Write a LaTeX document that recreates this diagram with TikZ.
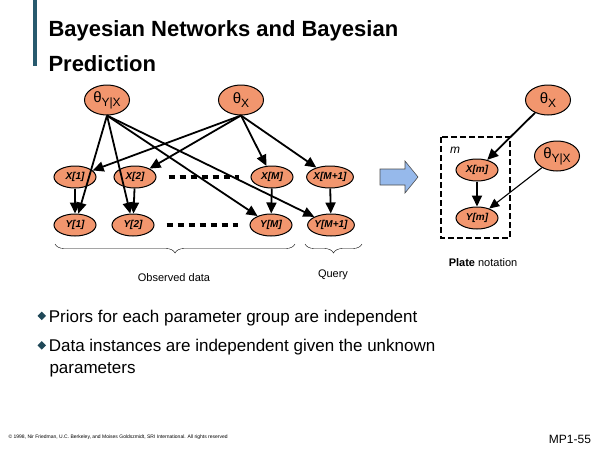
\documentclass[tikz,border=0pt]{standalone}
\usepackage{fontspec}
\setmainfont{Liberation Sans}
\usetikzlibrary{shapes.geometric,shapes.arrows,arrows.meta,decorations.pathreplacing,patterns}
\definecolor{nodeor}{RGB}{242,150,110}
\definecolor{bar}{RGB}{40,90,110}
\definecolor{arrblue}{RGB}{150,185,235}
\begin{document}
\begin{tikzpicture}[x=1pt,y=-1pt,
  v/.style={ellipse,draw,fill=nodeor,line width=1pt,minimum width=42pt,minimum height=22pt,inner sep=0pt,font=\bfseries\itshape\fontsize{10}{10}\selectfont},
  p/.style={ellipse,draw,fill=nodeor,line width=1pt,minimum width=45pt,minimum height=30pt,inner sep=0pt,font=\fontsize{15}{15}\selectfont},
  e/.style={-{Triangle[length=11pt,width=10pt]},line width=1.8pt},
  brace/.style={decorate,decoration={brace,mirror,amplitude=9pt},line width=0.4pt}]
\useasboundingbox (0,0) rectangle (600,450);
\fill[bar] (33,0) rectangle (37,66);
\node[anchor=west,font=\bfseries\fontsize{22}{24}\selectfont] (t1) at (45,31) {Bayesian Networks and Bayesian};
\node[anchor=west,font=\bfseries\fontsize{22}{24}\selectfont] (t2) at (45,64) {Prediction};
% left network
\node[p] (tyx) at (107,100) {θ\raisebox{-0.5ex}{\fontsize{12}{12}\selectfont Y|X}};
\node[p] (tx) at (241,100) {θ\raisebox{-0.5ex}{\fontsize{12}{12}\selectfont X}};
\node[v] (x1) at (75,177) {X[1]};
\node[v] (x2) at (135,177) {X[2]};
\node[v] (xm) at (272,177) {X[M]};
\node[v] (xm1) at (330,177) {X[M+1]};
\node[v] (y1) at (75,225) {Y[1]};
\node[v] (y2) at (133,225) {Y[2]};
\node[v] (ym) at (271,225) {Y[M]};
\node[v] (ym1) at (331,225) {Y[M+1]};
\foreach \a/\b in {x1/y1,x2/y2,xm/ym,xm1/ym1} \draw[e] (\a) -- (\b);
\foreach \b in {x1,x2,xm,xm1} \draw[e] (tx.south) -- (\b);
\foreach \b in {y1,y2,ym,ym1} \draw[e] (tyx.south) -- (\b);
\draw[line width=4pt,dash pattern=on 6pt off 5pt] ([xshift=12pt]x2.east) coordinate (d1) -- ([xshift=-12pt]xm.west) coordinate (d2);
\draw[line width=4pt,dash pattern=on 6pt off 5pt] ([xshift=12pt]y2.east) coordinate (d3) -- ([xshift=-12pt]ym.west) coordinate (d4);
\coordinate (b1) at (55,244); \coordinate (b2) at (295,244);
\coordinate (b3) at (305,244); \coordinate (b4) at (362,244);
\draw[brace] (b1) -- (b2);
\draw[brace] (b3) -- (b4);
\node[font=\fontsize{11}{12}\selectfont] (od) at (174,278) {Observed data};
\node[font=\fontsize{11}{12}\selectfont] (q) at (333,275) {Query};
% block arrow
\draw[gray!60!black,fill=arrblue,line width=0.6pt] (380,169) -- (405,169) -- (405,161) -- (418,177) -- (405,193) -- (405,185) -- (380,185) -- cycle;
% plate
\draw[line width=1.3pt,dash pattern=on 6pt off 3pt] (441,137) rectangle (510,238);
\node[font=\itshape\fontsize{12}{12}\selectfont] (m) at (455,150) {m};
\node[v] (xp) at (477,170) {X[m]};
\node[v] (yp) at (477,218) {Y[m]};
\node[p] (ptx) at (548,100) {θ\raisebox{-0.5ex}{\fontsize{12}{12}\selectfont X}};
\node[p] (ptyx) at (557,156) {θ\raisebox{-0.5ex}{\fontsize{12}{12}\selectfont Y|X}};
\draw[e] (xp) -- (yp);
\draw[e] (ptx) -- (xp);
\draw[-{Triangle[length=10pt,width=9pt]},line width=1.1pt] (ptyx) -- (yp);
\node[font=\fontsize{11}{12}\selectfont] (pn) at (483,263) {\textbf{Plate} notation};
% bullets
\node[anchor=west,font=\fontsize{17}{20}\selectfont] (l1) at (34,318) {\raisebox{0.25ex}{\tikz\fill[bar!80!black,rotate=45] (0,0) rectangle (6pt,6pt);}\,Priors for each parameter group are independent};
\node[anchor=north west,align=left,font=\fontsize{17}{22}\selectfont] (l2) at (34,336) {\raisebox{0.25ex}{\tikz\fill[bar!80!black,rotate=45] (0,0) rectangle (6pt,6pt);}\,Data instances are independent given the unknown\\\hspace*{12pt}parameters};
\node[anchor=west,font=\fontsize{5}{5}\selectfont] (f) at (5,437) {\copyright{} 1998, Nir Friedman, U.C. Berkeley, and Moises Goldszmidt, SRI International. All rights reserved};
\node[font=\fontsize{12}{12}\selectfont] (mp) at (570,439) {MP1-55};
\end{tikzpicture}
\end{document}
